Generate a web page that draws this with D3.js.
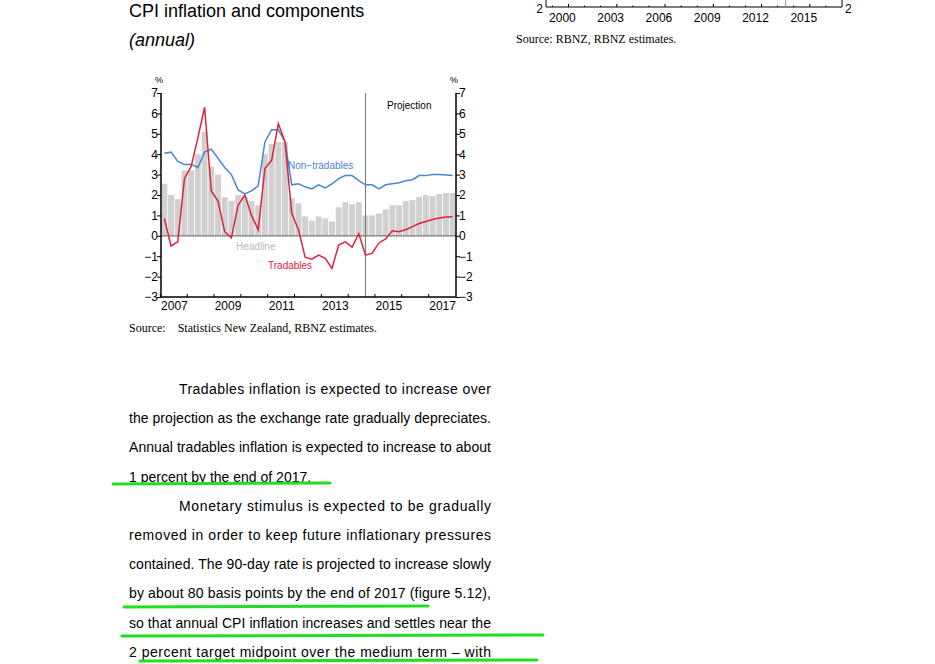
<!DOCTYPE html>
<html><head><meta charset="utf-8">
<script src="https://cdn.jsdelivr.net/npm/d3@7"></script>
<style>body{margin:0;background:#fff}svg{display:block}</style>
</head><body>
<svg id="c" width="935" height="664"></svg>
<script>
const quarters = d3.range(44).map(i => `${2007 + Math.floor(i/4)}Q${i%4+1}`);
const headline = [2.55,2.0,1.8,3.2,3.2,4.0,5.1,3.4,3.0,1.9,1.7,2.0,1.9,1.7,1.5,4.0,4.5,4.6,4.6,1.85,1.6,0.95,0.75,0.95,0.85,0.7,1.4,1.65,1.55,1.65,1.0,1.0,1.1,1.3,1.5,1.5,1.7,1.75,1.9,2.0,1.95,2.05,2.1,2.1];
const tradables = [0.85,-0.5,-0.3,2.8,3.4,4.8,6.3,2.2,1.7,0.2,-0.1,1.5,2.0,1.0,0.3,3.3,3.7,5.5,4.6,1.1,0.3,-1.05,-1.15,-0.95,-1.1,-1.6,-0.45,-0.3,-0.55,0.1,-0.95,-0.85,-0.35,-0.15,0.25,0.2,0.3,0.45,0.6,0.7,0.8,0.87,0.92,0.93];
const nontradables = [4.05,4.1,3.65,3.5,3.5,3.35,4.1,4.25,3.8,3.35,3.0,2.25,2.05,2.2,2.45,4.6,5.2,5.2,4.6,2.5,2.55,2.4,2.3,2.5,2.35,2.55,2.8,2.95,2.95,2.7,2.5,2.5,2.3,2.5,2.55,2.6,2.7,2.75,2.95,2.95,3.0,3.0,2.98,2.95];
const yTicks = [-3,-2,-1,0,1,2,3,4,5,6,7];
const yearLabels = [2007,2009,2011,2013,2015,2017];
const projectionStart = "2014Q3";
const topYears = [2000,2003,2006,2009,2012,2015];
const paragraph = [
 ["Tradables inflation is expected to increase over", true, true],
 ["the projection as the exchange rate gradually depreciates.", false, true],
 ["Annual tradables inflation is expected to increase to about", false, true],
 ["1 percent by the end of 2017.", false, false],
 ["Monetary stimulus is expected to be gradually", true, true],
 ["removed in order to keep future inflationary pressures", false, true],
 ["contained. The 90-day rate is projected to increase slowly", false, true],
 ["by about 80 basis points by the end of 2017 (figure 5.12),", false, true],
 ["so that annual CPI inflation increases and settles near the", false, true],
 ["2 percent target midpoint over the medium term \u2013 with", false, true]
];
const underlines = [[3,113,330,484],[7,124,428,607],[8,122,543,636],[9,140,537,661]];

const svg = d3.select("#c");
const F = "'Liberation Sans', Arial, sans-serif";
const S = "'Liberation Serif', serif";
const tx = d3.scaleLinear().domain([1999.6,2018]).range([546,842]);
const tg = svg.append("g");
tg.append("line").attr("x1",546).attr("x2",842).attr("y1",7).attr("y2",7).attr("stroke","#000");
tg.append("line").attr("x1",546).attr("x2",546).attr("y1",0).attr("y2",7).attr("stroke","#000");
tg.append("line").attr("x1",842).attr("x2",842).attr("y1",0).attr("y2",7).attr("stroke","#000");
tg.append("line").attr("x1",tx(2014.5)).attr("x2",tx(2014.5)).attr("y1",0).attr("y2",7).attr("stroke","#888");
d3.range(2000,2018).forEach(y=>tg.append("line").attr("x1",tx(y)).attr("x2",tx(y)).attr("y1",7).attr("y2",y%3==0?4:5.5).attr("stroke","#000"));
topYears.forEach(y=>tg.append("text").attr("x",tx(y)+10).attr("y",22).attr("text-anchor","middle").attr("font-family",F).attr("font-size",12).text(y));
tg.append("text").attr("x",543).attr("y",13).attr("text-anchor","end").attr("font-family",F).attr("font-size",12).text("2");
tg.append("text").attr("x",845).attr("y",13).attr("font-family",F).attr("font-size",12).text("2");
tg.append("text").attr("x",516).attr("y",43).attr("font-family",S).attr("font-size",12).text("Source: RBNZ, RBNZ estimates.");

svg.append("text").attr("x",129).attr("y",17).attr("font-family",F).attr("font-size",18).text("CPI inflation and components");
svg.append("text").attr("x",129).attr("y",46).attr("font-family",F).attr("font-size",18).attr("font-style","italic").text("(annual)");

const L=161,R=456,T=93,B=297;
const x = d3.scaleBand().domain(quarters).range([L,R]).paddingInner(0.12).paddingOuter(0.06);
const xc = q => x(q)+x.bandwidth()/2;
const y = d3.scaleLinear().domain([-3,7]).range([B,T]);
const g = svg.append("g");
g.selectAll("rect").data(headline).join("rect").attr("x",(d,i)=>x(quarters[i])).attr("width",x.bandwidth())
 .attr("y",d=>y(Math.max(0,d))).attr("height",d=>Math.abs(y(d)-y(0))).attr("fill","#d0d0d0");
g.append("line").attr("x1",L).attr("x2",R).attr("y1",y(0)).attr("y2",y(0)).attr("stroke","#777").attr("stroke-width",1.2);
g.append("line").attr("x1",xc(projectionStart)).attr("x2",xc(projectionStart)).attr("y1",T).attr("y2",B).attr("stroke","#777");
const line = d3.line().x((d,i)=>xc(quarters[i])).y(d=>y(d));
g.append("path").datum(nontradables).attr("d",line).attr("fill","none").attr("stroke","#4a86cf").attr("stroke-width",1.5);
g.append("path").datum(tradables).attr("d",line).attr("fill","none").attr("stroke","#e0223f").attr("stroke-width",1.5);
const la = g.append("g").attr("transform",`translate(${L},0)`).call(d3.axisLeft(y).tickValues(yTicks).tickSize(4).tickFormat(d3.format("d")));
const ra = g.append("g").attr("transform",`translate(${R},0)`).call(d3.axisRight(y).tickValues(yTicks).tickSize(4).tickFormat(d3.format("d")));
[la,ra].forEach(a=>{a.select(".domain").attr("stroke-width",1.5).attr("d",`M0,${T}V${B}`);a.selectAll("text").attr("font-family",F).attr("font-size",12).attr("fill","#000");});
la.selectAll(".tick text").attr("x",-3);ra.selectAll(".tick text").attr("x",3);
g.append("line").attr("x1",L).attr("x2",R).attr("y1",B).attr("y2",B).attr("stroke","#000").attr("stroke-width",1.5);
yearLabels.forEach(yr=>g.append("text").attr("x",(x(yr+"Q1")+x(yr+"Q4")+x.bandwidth())/2).attr("y",310).attr("text-anchor","middle").attr("font-family",F).attr("font-size",12).text(yr));
d3.range(2007,2018).forEach(yr=>g.append("line").attr("x1",x(yr+"Q1")-1).attr("x2",x(yr+"Q1")-1).attr("y1",B).attr("y2",B-3).attr("stroke","#000"));
g.append("text").attr("x",155).attr("y",83).attr("font-family",F).attr("font-size",9).text("%");
g.append("text").attr("x",450).attr("y",83).attr("font-family",F).attr("font-size",9).text("%");
g.append("text").attr("x",387).attr("y",109).attr("font-family",F).attr("font-size",10).text("Projection");
g.append("text").attr("x",288).attr("y",169).attr("font-family",F).attr("font-size",10).attr("fill","#4a86cf").text("Non\u2212tradables");
g.append("text").attr("x",236).attr("y",250).attr("font-family",F).attr("font-size",10).attr("fill","#b8b8b8").text("Headline");
g.append("text").attr("x",268).attr("y",269).attr("font-family",F).attr("font-size",10).attr("fill","#e0223f").text("Tradables");
svg.append("text").attr("x",129).attr("y",332).attr("font-family",S).attr("font-size",12).attr("xml:space","preserve").text("Source:    Statistics New Zealand, RBNZ estimates.");

paragraph.forEach(([t,indent,just],i)=>{
  const x0 = indent?179:129, yy = 394+i*29.2;
  const te = svg.append("text").attr("x",x0).attr("y",yy).attr("font-family",F).attr("font-size",14).text(t);
  if(just) te.attr("textLength",491-x0).attr("lengthAdjust","spacing");
});
underlines.forEach(([i,a,b,yy])=>svg.append("path").attr("d",`M${a},${yy}L${b},${yy-1}`).attr("stroke","#22dd22").attr("stroke-width",3).attr("stroke-linecap","round").attr("fill","none"));
</script>
</body></html>
